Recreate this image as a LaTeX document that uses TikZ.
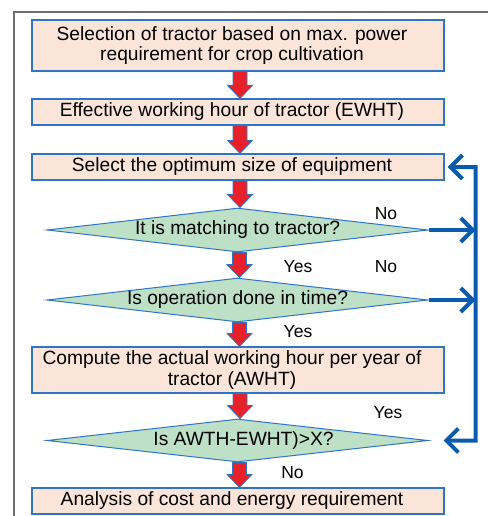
\documentclass[tikz,border=0pt]{standalone}
\usepackage{fontspec}
\setmainfont{Liberation Sans}
\usetikzlibrary{shapes.geometric,arrows.meta,calc}
\definecolor{boxfill}{HTML}{FBE5D9}
\definecolor{boxline}{HTML}{2E75C6}
\definecolor{dfill}{HTML}{BDE0C6}
\definecolor{conn}{HTML}{0A5BAE}
\definecolor{redar}{HTML}{E8202A}
\definecolor{framec}{HTML}{707070}
\newcommand\tsh{\kern12pt}
\newcommand\redarrow[2]{%
  \path let \p1=(#1.south), \p2=(#2.north) in
    [draw=boxline, line width=0.8pt, fill=redar, line join=miter]
    (\x1-5pt,\y1) -- (\x1-5pt,\y2+13pt) -- (\x1-10.5pt,\y2+13pt) -- (\x1+2pt,\y2)
    -- (\x1+14.5pt,\y2+13pt) -- (\x1+9pt,\y2+13pt) -- (\x1+9pt,\y1) -- cycle;}
\begin{document}
\begin{tikzpicture}[x=1pt,y=-1pt,
  proc/.style={draw=boxline, line width=1.2pt, fill=boxfill, minimum width=412pt,
    inner sep=0pt, align=center, font=\fontsize{19.2}{20.5}\selectfont},
  dec/.style={diamond, draw=boxline, line width=1pt, fill=dfill, minimum width=381pt,
    minimum height=44pt, inner sep=0pt, aspect=8.66, font=\fontsize{19.2}{20.5}\selectfont},
  lbl/.style={font=\fontsize{17.5}{20}\selectfont, inner sep=0pt, anchor=base},
  loopline/.style={draw=conn, line width=4pt},
  barb/.tip={Straight Barb[length=12pt,width=24pt]}
]
\useasboundingbox (0,0) rectangle (488,516);
\draw[framec, line width=1.2pt] (14,516) -- (14,12) -- (488,12);

\node[proc, minimum height=51pt] (b1) at (238,45.5) {Selection of tractor based on max. power\tsh\\requirement for crop cultivation\tsh};
\node[proc, minimum height=26pt] (b2) at (238,112) {Effective working hour of tractor (EWHT)\tsh};
\node[proc, minimum height=26pt] (b3) at (238,167) {Select the optimum size of equipment\tsh};
\node[dec] (d1) at (237.5,230) {It is matching to tractor?};
\node[dec] (d2) at (237.5,300) {Is operation done in time?};
\node[proc, minimum height=46pt] (b4) at (238,370) {Compute the actual working hour per year of\tsh\\tractor (AWHT)\tsh};
\node[dec, minimum height=43pt] (d3) at (237.5,440.5) {\tsh Is AWTH-EWHT)>X?};
\node[proc, minimum height=26pt] (b5) at (238,501) {Analysis of cost and energy requirement\tsh};

\redarrow{b1}{b2}
\redarrow{b2}{b3}
\redarrow{b3}{d1}
\redarrow{d1}{d2}
\redarrow{d2}{b4}
\redarrow{b4}{d3}
\redarrow{d3}{b5}

\coordinate (rt) at ($(b3.east)+(31,0)$);
\coordinate (rb) at ($(d3.east)+(47,0)$);
\draw[loopline, barb-barb] ($(d3.east)+(15,0)$) -- (rb) -- (rt) -- ($(b3.east)+(3,0)$);
\draw[loopline, -barb] (d1.east) -- (d1.east -| rt);
\draw[loopline, -barb] (d2.east) -- (d2.east -| rt);

\node[lbl] (n1) at (386,219) {No};
\node[lbl] (y1) at (298,272) {Yes};
\node[lbl] (n2) at (386,272) {No};
\node[lbl] (y2) at (298,337) {Yes};
\node[lbl] (y3) at (388,418) {Yes};
\node[lbl] (n3) at (292.5,478.5) {No};
\end{tikzpicture}
\end{document}
